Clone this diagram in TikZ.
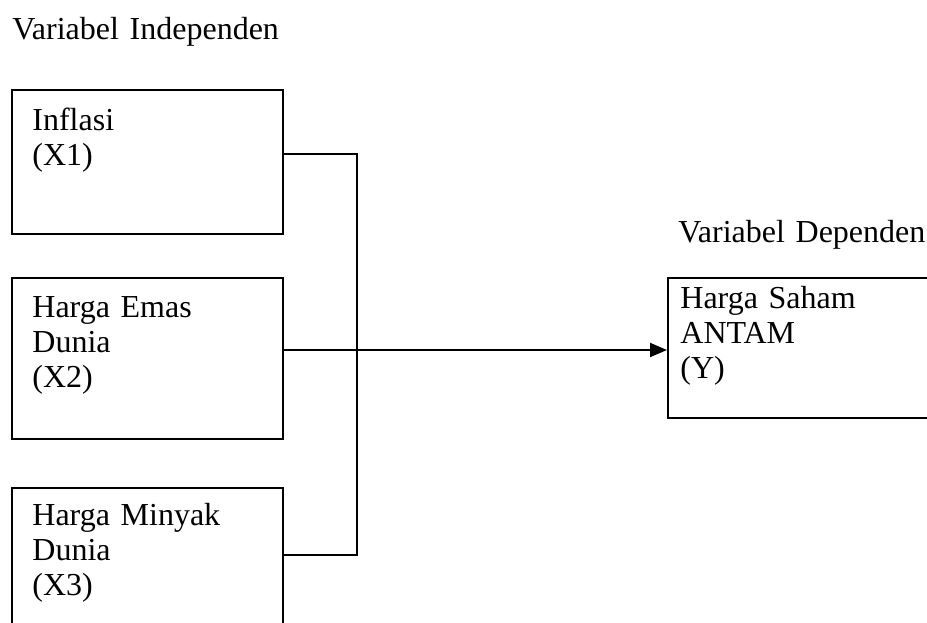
\documentclass[tikz,border=0pt]{standalone}
\usepackage{fontspec}
\setmainfont{Liberation Serif}
\usetikzlibrary{arrows.meta,calc}
\begin{document}
\begin{tikzpicture}[x=0.5pt,y=-0.5pt,
  box/.style={draw,line width=1pt,rectangle,inner sep=0pt,anchor=north west},
  txt/.style={anchor=base west,inner sep=0pt,align=left,text width=140pt,
    font=\fontsize{16pt}{17.5pt}\selectfont},
  conn/.style={line width=1pt}]
\useasboundingbox (0,0) rectangle (927,622);
\clip (0,0) rectangle (927,622);
\node[txt] (ti) at (12,39) {Variabel Independen};
\node[box,minimum width=135.5pt,minimum height=72pt] (b1) at (11,89) {};
\node[box,minimum width=135.5pt,minimum height=80.5pt] (b2) at (11,277) {};
\node[box,minimum width=135.5pt,minimum height=80pt] (b3) at (11,487) {};
\node[box,minimum width=140pt,minimum height=70pt] (yb) at (667,277) {};
\node[txt] (t1) at (32,130) {Inflasi\\(X1)};
\node[txt] (t2) at (32,317) {Harga Emas\\Dunia\\(X2)};
\node[txt] (t3) at (32,525) {Harga Minyak\\Dunia\\(X3)};
\node[txt] (ty) at (680,308) {Harga Saham\\ANTAM\\(Y)};
\node[txt] (td) at (678,242) {Variabel Dependen};
\coordinate (p1) at ($(b1.north east)+(0,65)$);
\coordinate (p2) at ($(b2.north east)+(0,73)$);
\coordinate (p3) at ($(b3.north east)+(0,68)$);
\coordinate (v1) at ($(p1)+(73,0)$);
\draw[conn] (p1) -- (v1) -- (v1 |- p3) -- (p3);
\draw[conn,-{Triangle[length=8.5pt,width=7pt]}] (p2) -- (p2 -| yb.west);
\end{tikzpicture}
\end{document}
